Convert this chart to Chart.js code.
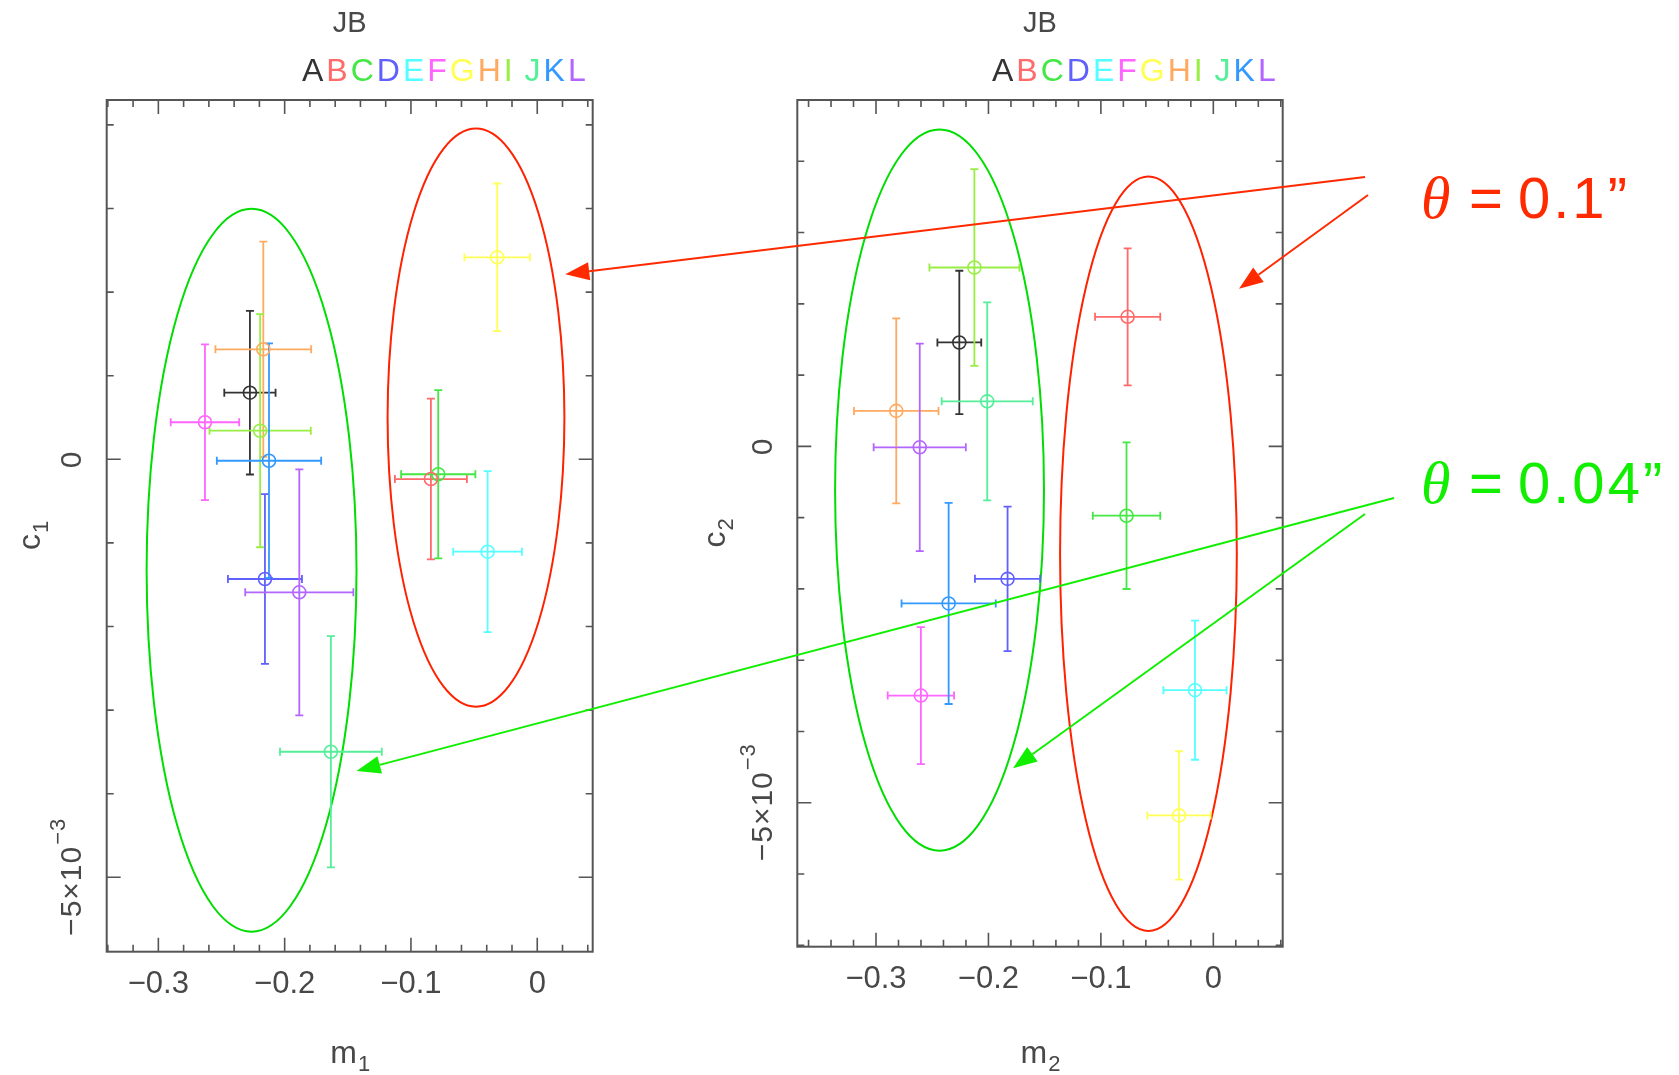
<!DOCTYPE html>
<html>
<head>
<meta charset="utf-8">
<script src="https://cdn.jsdelivr.net/npm/chart.js@4.4.0/dist/chart.umd.min.js"></script>
<style>
  html, body { margin: 0; padding: 0; background: #fff; }
  #wrap { position: relative; width: 1679px; height: 1075px; overflow: hidden; }
  canvas { position: absolute; top: 0; }
  #left { left: 0; }
  #right { left: 700px; }
  #overlay { left: 0; pointer-events: none; }
</style>
</head>
<body>
<div id="wrap">
  <canvas id="left" width="700" height="1075" style="width:700px;height:1075px"></canvas>
  <canvas id="right" width="630" height="1075" style="width:630px;height:1075px"></canvas>
  <canvas id="overlay" width="1679" height="1075" style="width:1679px;height:1075px"></canvas>
</div>
<script>
// series A..L, one point each
const letters = ['A', 'B', 'C', 'D', 'E', 'F', 'G', 'H', 'I', 'J', 'K', 'L'];
const colors = ['#333333', '#ff6a6a', '#44e844', '#6060ff', '#55ffff', '#ff66ff',
                '#ffff55', '#ffaa60', '#99ee44', '#55ee99', '#3399ff', '#b266ff'];

// left panel: m1 / c1
const m1    = [-0.2275, -0.0842, -0.0784, -0.2156, -0.0393, -0.2631, -0.0317, -0.2169, -0.2194, -0.1634, -0.2124, -0.1884];
const m1Err = [0.0203, 0.0285, 0.0294, 0.0293, 0.0272, 0.0271, 0.0260, 0.0379, 0.0401, 0.0403, 0.0413, 0.0428];
const c1    = [0.797e-3, -0.236e-3, -0.179e-3, -1.432e-3, -1.105e-3, 0.443e-3, 2.416e-3, 1.316e-3, 0.342e-3, -3.498e-3, -0.017e-3, -1.591e-3];
const c1Err = [0.979e-3, 0.961e-3, 1.007e-3, 1.015e-3, 0.963e-3, 0.931e-3, 0.883e-3, 1.288e-3, 1.394e-3, 1.383e-3, 1.403e-3, 1.471e-3];

// right panel: m2 / c2
const m2    = [-0.2259, -0.0762, -0.0772, -0.1830, -0.0163, -0.2601, -0.0305, -0.2820, -0.2125, -0.2011, -0.2354, -0.2611];
const m2Err = [0.0195, 0.0290, 0.0300, 0.0290, 0.0281, 0.0295, 0.0281, 0.0376, 0.0400, 0.0405, 0.0419, 0.0410];
const c2    = [1.458e-3, 1.818e-3, -0.973e-3, -1.859e-3, -3.421e-3, -3.496e-3, -5.178e-3, 0.498e-3, 2.510e-3, 0.632e-3, -2.204e-3, -0.013e-3];
const c2Err = [1.006e-3, 0.961e-3, 1.028e-3, 1.013e-3, 0.976e-3, 0.961e-3, 0.900e-3, 1.299e-3, 1.381e-3, 1.389e-3, 1.411e-3, 1.456e-3];

// axis ticks
const xMajorTicks = [-0.3, -0.2, -0.1, 0];
const xTickLabels = ['\u22120.3', '\u22120.2', '\u22120.1', '0'];
const yMajorTicks = [0, -5e-3];

// grouping ellipses [green group, red group]: centre and semi-axes in data units
const ell1X  = [-0.2262, -0.0485];
const ell1Y  = [-1.327e-3, 0.499e-3];
const ell1Rx = [0.0831, 0.0700];
const ell1Ry = [4.323e-3, 3.458e-3];
const ell2X  = [-0.2435, -0.0577];
const ell2Y  = [-0.613e-3, -1.507e-3];
const ell2Rx = [0.0929, 0.0786];
const ell2Ry = [5.060e-3, 5.293e-3];
const ellColors = ['#00dd00', '#ff2200'];

const FONT = '"Liberation Sans", Arial, sans-serif';
const INK = '#484848';

function pgplotPlugin(cfg) {
  return {
    id: 'pgplot',
    beforeDatasetsDraw(chart) {
      const ctx = chart.ctx, xs = chart.scales.x, ys = chart.scales.y;
      ctx.save();
      // ellipses
      ctx.lineWidth = 2;
      cfg.ex.forEach((cx, i) => {
        const px = xs.getPixelForValue(cx), py = ys.getPixelForValue(cfg.ey[i]);
        const rx = Math.abs(xs.getPixelForValue(cx + cfg.erx[i]) - px);
        const ry = Math.abs(ys.getPixelForValue(cfg.ey[i] + cfg.ery[i]) - py);
        ctx.strokeStyle = ellColors[i];
        ctx.beginPath();
        ctx.ellipse(px, py, rx, ry, 0, 0, Math.PI * 2);
        ctx.stroke();
      });
      // error bars
      ctx.lineWidth = 1.8;
      const cap = 4;
      cfg.m.forEach((mv, i) => {
        const x0 = xs.getPixelForValue(mv - cfg.mErr[i]), x1 = xs.getPixelForValue(mv + cfg.mErr[i]);
        const y0 = ys.getPixelForValue(cfg.c[i] - cfg.cErr[i]), y1 = ys.getPixelForValue(cfg.c[i] + cfg.cErr[i]);
        const px = xs.getPixelForValue(mv), py = ys.getPixelForValue(cfg.c[i]);
        ctx.strokeStyle = colors[i];
        ctx.beginPath();
        ctx.moveTo(x0, py); ctx.lineTo(x1, py);
        ctx.moveTo(x0, py - cap); ctx.lineTo(x0, py + cap);
        ctx.moveTo(x1, py - cap); ctx.lineTo(x1, py + cap);
        ctx.moveTo(px, y0); ctx.lineTo(px, y1);
        ctx.moveTo(px - cap, y0); ctx.lineTo(px + cap, y0);
        ctx.moveTo(px - cap, y1); ctx.lineTo(px + cap, y1);
        ctx.stroke();
      });
      ctx.restore();
    },
    afterDraw(chart) {
      const ctx = chart.ctx, a = chart.chartArea, xs = chart.scales.x, ys = chart.scales.y;
      ctx.save();
      // frame
      ctx.strokeStyle = '#555';
      ctx.lineWidth = 2;
      ctx.strokeRect(a.left, a.top, a.right - a.left, a.bottom - a.top);
      // inward ticks on all four sides
      ctx.lineWidth = 1.6;
      ctx.beginPath();
      for (let k = Math.ceil(xs.min / 0.02 - 1e-6); k <= Math.floor(xs.max / 0.02 + 1e-6); k++) {
        const px = xs.getPixelForValue(k * 0.02), len = k % 5 === 0 ? 14 : 7;
        ctx.moveTo(px, a.bottom); ctx.lineTo(px, a.bottom - len);
        ctx.moveTo(px, a.top); ctx.lineTo(px, a.top + len);
      }
      for (let k = Math.ceil(ys.min / 1e-3 - 1e-6); k <= Math.floor(ys.max / 1e-3 + 1e-6); k++) {
        const py = ys.getPixelForValue(k * 1e-3), len = k % 5 === 0 ? 14 : 7;
        ctx.moveTo(a.left, py); ctx.lineTo(a.left + len, py);
        ctx.moveTo(a.right, py); ctx.lineTo(a.right - len, py);
      }
      ctx.stroke();

      ctx.fillStyle = INK;
      const cx = (a.left + a.right) / 2, cy = (a.top + a.bottom) / 2;
      // title
      ctx.font = '29px ' + FONT;
      ctx.textAlign = 'center';
      ctx.textBaseline = 'alphabetic';
      ctx.fillText('JB', cx, 32);
      // coloured series row, right aligned to the frame
      ctx.font = '32px ' + FONT;
      ctx.textAlign = 'left';
      const gap = 3, spaceW = ctx.measureText(' ').width;
      let total = 0;
      letters.forEach((L, i) => { total += ctx.measureText(L).width + gap + (L === 'I' ? spaceW : 0); });
      let lx = a.right - 4 - total;
      letters.forEach((L, i) => {
        ctx.fillStyle = i === 0 ? '#333' : colors[i];
        ctx.fillText(L, lx, 81);
        lx += ctx.measureText(L).width + gap + (L === 'I' ? spaceW : 0);
      });

      // rotated y tick labels
      ctx.fillStyle = INK;
      yMajorTicks.forEach(v => {
        const py = ys.getPixelForValue(v);
        ctx.save();
        ctx.translate(a.left - 34, py);
        ctx.rotate(-Math.PI / 2);
        ctx.textBaseline = 'middle';
        ctx.textAlign = 'left';
        ctx.letterSpacing = '1px';
        if (v === 0) {
          ctx.font = '30px ' + FONT;
          const w = ctx.measureText('0').width;
          ctx.fillText('0', -w / 2, 0);
        } else {
          ctx.font = '30px ' + FONT;
          const main = '\u22125\u00d710';
          const w1 = ctx.measureText(main).width;
          ctx.font = '22px ' + FONT;
          const w2 = ctx.measureText('\u22123').width;
          const s = -(w1 + w2) / 2;
          ctx.font = '30px ' + FONT;
          ctx.fillText(main, s, 0);
          ctx.font = '22px ' + FONT;
          ctx.fillText('\u22123', s + w1 + 1, -14);
        }
        ctx.restore();
      });

      // y axis title
      ctx.save();
      ctx.translate(a.left - cfg.yTitleOff, cy + 10);
      ctx.rotate(-Math.PI / 2);
      ctx.textBaseline = 'alphabetic';
      ctx.textAlign = 'left';
      ctx.font = '32px ' + FONT;
      const cw = ctx.measureText('c').width;
      ctx.font = '22px ' + FONT;
      const sw = ctx.measureText(cfg.sub).width;
      const st = -(cw + sw) / 2;
      ctx.font = '32px ' + FONT;
      ctx.fillText('c', st, 8);
      ctx.font = '22px ' + FONT;
      ctx.fillText(cfg.sub, st + cw + 1, 16);
      ctx.restore();

      // x axis title
      ctx.font = '32px ' + FONT;
      const mw = ctx.measureText('m').width;
      ctx.font = '22px ' + FONT;
      const xsw = ctx.measureText(cfg.sub).width;
      const xst = cx - (mw + xsw) / 2;
      ctx.textAlign = 'left';
      ctx.font = '32px ' + FONT;
      ctx.fillText('m', xst, 1063);
      ctx.font = '22px ' + FONT;
      ctx.fillText(cfg.sub, xst + mw + 1, 1071);
      ctx.restore();
    }
  };
}

function makeChart(id, cfg) {
  return new Chart(document.getElementById(id), {
    type: 'scatter',
    data: {
      datasets: letters.map((L, i) => ({
        label: L,
        data: [{ x: cfg.m[i], y: cfg.c[i] }],
        borderColor: colors[i],
        backgroundColor: 'rgba(0,0,0,0)',
        pointRadius: 6.5,
        pointHoverRadius: 6.5,
        borderWidth: 1.6
      }))
    },
    options: {
      responsive: false,
      animation: false,
      events: [],
      layout: { padding: { left: 0, top: 100, right: cfg.padRight, bottom: 0 } },
      plugins: { legend: { display: false }, tooltip: { enabled: false } },
      scales: {
        x: {
          type: 'linear',
          min: cfg.xMin,
          max: cfg.xMax,
          afterBuildTicks: s => { s.ticks = xMajorTicks.map(v => ({ value: v })); },
          afterFit: s => { s.height = cfg.xAxisH; },
          grid: { display: false },
          border: { display: false },
          ticks: {
            color: INK,
            font: { family: FONT, size: 31 },
            padding: 6,
            minRotation: 0,
            maxRotation: 0,
            autoSkip: false,
            callback: (v, i) => xTickLabels[xMajorTicks.indexOf(v)]
          }
        },
        y: {
          type: 'linear',
          min: cfg.yMin,
          max: cfg.yMax,
          afterFit: s => { s.width = cfg.yAxisW; },
          grid: { display: false },
          border: { display: false },
          ticks: { display: false }
        }
      }
    },
    plugins: [pgplotPlugin(cfg)]
  });
}

const leftChart = makeChart('left', {
  m: m1, mErr: m1Err, c: c1, cErr: c1Err,
  ex: ell1X, ey: ell1Y, erx: ell1Rx, ery: ell1Ry,
  xMin: -0.3409, xMax: 0.0439, yMin: -5.89e-3, yMax: 4.298e-3,
  yAxisW: 106.7, padRight: 107.3, xAxisH: 123.3, sub: '1', yTitleOff: 75
});
const rightChart = makeChart('right', {
  m: m2, mErr: m2Err, c: c2, cErr: c2Err,
  ex: ell2X, ey: ell2Y, erx: ell2Rx, ery: ell2Ry,
  xMin: -0.370, xMax: 0.0617, yMin: -7.02e-3, yMax: 4.86e-3,
  yAxisW: 97.3, padRight: 47.3, xAxisH: 128.3, sub: '2', yTitleOff: 80
});

// annotation arrows: tip given in data units of a panel, tail next to the label
const arrowTail = [[1365, 177], [1368, 195], [1394, 498], [1365, 514]];
const arrowTipX = [0.0222, 0.0229, -0.1431, -0.1782];
const arrowTipY = [2.215e-3, 2.21e-3, -3.728e-3, -4.516e-3];
const arrowPanel = ['left', 'right', 'left', 'right'];
const arrowColors = ['#ff2a00', '#ff2a00', '#11ee00', '#11ee00'];

(function drawOverlay() {
  const ctx = document.getElementById('overlay').getContext('2d');
  const panels = { left: [leftChart, 0], right: [rightChart, 700] };
  arrowTail.forEach((t, i) => {
    const [ch, off] = panels[arrowPanel[i]];
    const tx = off + ch.scales.x.getPixelForValue(arrowTipX[i]);
    const ty = ch.scales.y.getPixelForValue(arrowTipY[i]);
    const ang = Math.atan2(ty - t[1], tx - t[0]);
    const L = 24, W = 9;
    const bx = tx - L * Math.cos(ang), by = ty - L * Math.sin(ang);
    ctx.strokeStyle = arrowColors[i];
    ctx.fillStyle = arrowColors[i];
    ctx.lineWidth = 2;
    ctx.beginPath();
    ctx.moveTo(t[0], t[1]);
    ctx.lineTo(bx, by);
    ctx.stroke();
    ctx.beginPath();
    ctx.moveTo(tx, ty);
    ctx.lineTo(bx - W * Math.sin(ang), by + W * Math.cos(ang));
    ctx.lineTo(bx + W * Math.sin(ang), by - W * Math.cos(ang));
    ctx.closePath();
    ctx.fill();
  });

  function theta(txt, color, base) {
    ctx.fillStyle = color;
    ctx.textBaseline = 'alphabetic';
    ctx.textAlign = 'left';
    ctx.font = 'italic 60px "Liberation Serif", serif';
    ctx.fillText('\u03b8', 1421, base);
    ctx.font = '58px ' + FONT;
    ctx.fillText('=', 1469, base);
    ctx.letterSpacing = '3px';
    ctx.fillText(txt, 1518, base);
    ctx.letterSpacing = '0px';
  }
  theta('0.1\u201d', '#ff2a00', 218);
  theta('0.04\u201d', '#11ee00', 503);
})();
</script>
</body>
</html>
